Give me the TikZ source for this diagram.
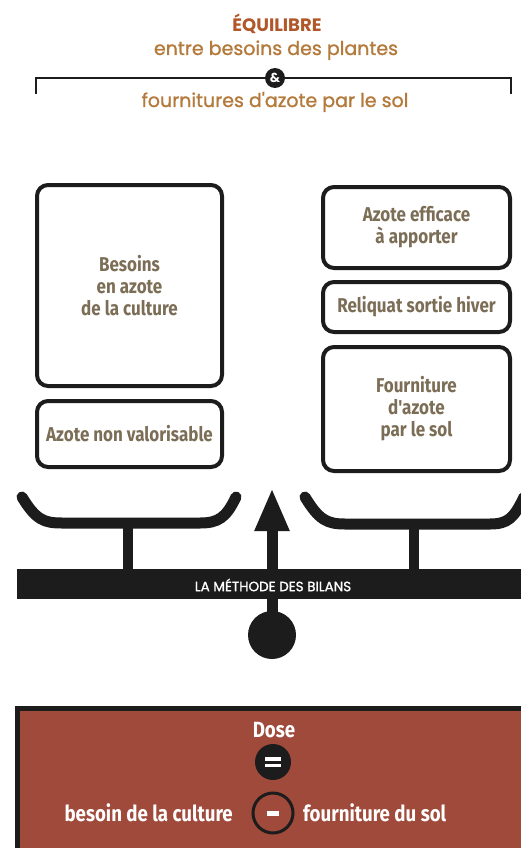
\documentclass[tikz,border=0pt]{standalone}
\usepackage{fontspec}
\setmainfont{Fira Sans}
\newfontfamily\geo[FakeBold=1.2]{Poppins}
\newfontfamily\geob{Poppins}
\newfontfamily\cond[FakeStretch=0.85]{Fira Sans}
\usetikzlibrary{arrows.meta}
\definecolor{rust}{HTML}{B0582A}
\definecolor{amber}{HTML}{B47A3C}
\definecolor{boxtxt}{HTML}{7C6E56}
\definecolor{brick}{HTML}{9F4A3A}
\definecolor{ink}{HTML}{1C1C1C}
\tikzset{
  titletxt/.style={inner sep=0pt, anchor=base, font=\geo\fontsize{19}{19}\selectfont, text=amber},
  bbox/.style={draw=ink, line width=4pt, rounded corners=11pt, align=center, inner sep=0pt,
     text=boxtxt, font=\cond\bfseries\fontsize{20}{22}\selectfont},
  pan/.style={draw=ink, line width=11pt, line cap=round},
  post/.style={draw=ink, line width=10pt},
  whitetxt/.style={text=white, inner sep=0pt, font=\cond\bfseries\fontsize{22}{22}\selectfont},
}
\begin{document}
\begin{tikzpicture}[x=1pt,y=-1pt]
\useasboundingbox (0,0) rectangle (520,848);
\fill[white] (0,0) rectangle (520,848);

% title
\node[titletxt, text=rust, font=\geob\bfseries\fontsize{18}{18}\selectfont] (t1) at (277,32) {ÉQUILIBRE};
\node[titletxt] (t2) at (276,55) {entre besoins des plantes};
\node[titletxt] (t3) at (275,107) {fournitures d'azote par le sol};
\node[circle, fill=ink, minimum size=20pt, inner sep=0pt, text=white,
      font=\geob\bfseries\fontsize{13}{13}\selectfont] (amp) at (275,78) {\&};
\coordinate (bl) at (36,94);
\coordinate (br) at (511,94);
\draw[ink, line width=2.5pt] (bl) |- (amp) -| (br);

% boxes
\node[bbox, minimum width=185pt, minimum height=201pt] (besoins) at (129.5,285.5) {Besoins\\en azote\\de la culture};
\node[bbox, minimum width=185pt, minimum height=66pt] (nonval) at (129.5,434) {Azote non valorisable};
\node[bbox, minimum width=187pt, minimum height=81pt] (efficace) at (416.5,227.5) {Azote efficace\\à apporter};
\node[bbox, minimum width=187pt, minimum height=50pt] (reliquat) at (416.5,307) {Reliquat sortie hiver};
\node[bbox, minimum width=187pt, minimum height=124pt] (fourn) at (416.5,409) {Fourniture\\d'azote\\par le sol};

% balance
\node[fill=ink, minimum width=520pt, minimum height=30pt, inner sep=0pt, anchor=west] (bar) at (17,584) {};
\draw[pan] (22,497) .. controls (36,520) and (44,523) .. (62,523) -- (200,523) .. controls (218,523) and (226,518) .. (236,497);
\draw[pan] (305,497) .. controls (319,520) and (327,524) .. (345,524) -- (490,524) .. controls (508,524) and (514,518) .. (524,497);
\coordinate (lp) at (128,523);
\coordinate (rp) at (414,524);
\draw[post] (lp) -- (lp |- bar.north);
\draw[post] (rp) -- (rp |- bar.north);
\node[circle, fill=ink, minimum size=48pt, inner sep=0pt] (pivot) at (272,635) {};
\coordinate (tip) at (272,488);
\draw[ink, line width=11pt, -{Triangle[width=32pt,length=43pt]}] (pivot.center) -- (tip);
\node[text=white, inner sep=0pt, font=\geo\fontsize{13.5}{13.5}\selectfont] (bartxt) at (273,585) {LA MÉTHODE DES BILANS};

% formula box
\node[draw=ink, fill=brick, line width=5pt, minimum width=520pt, minimum height=150pt,
      anchor=north west, inner sep=0pt] (formula) at (15,706) {};
\node[whitetxt] (dose) at (274,730) {Dose};
\node[circle, fill=ink, minimum size=36pt, inner sep=0pt] (eq) at (273,762) {};
\fill[white] ([shift={(-8,-5)}]eq.center) rectangle ([shift={(8,-1.5)}]eq.center);
\fill[white] ([shift={(-8,1.5)}]eq.center) rectangle ([shift={(8,5)}]eq.center);
\node[circle, draw=ink, line width=3pt, minimum size=40pt, inner sep=0pt] (minus) at (273,813) {};
\fill[white] ([shift={(-6,-2.5)}]minus.center) rectangle ([shift={(6,2.5)}]minus.center);
\node[whitetxt, anchor=east] (besc) at (233,813) {besoin de la culture};
\node[whitetxt, anchor=west] (fsol) at (303,813) {fourniture du sol};
\end{tikzpicture}
\end{document}
